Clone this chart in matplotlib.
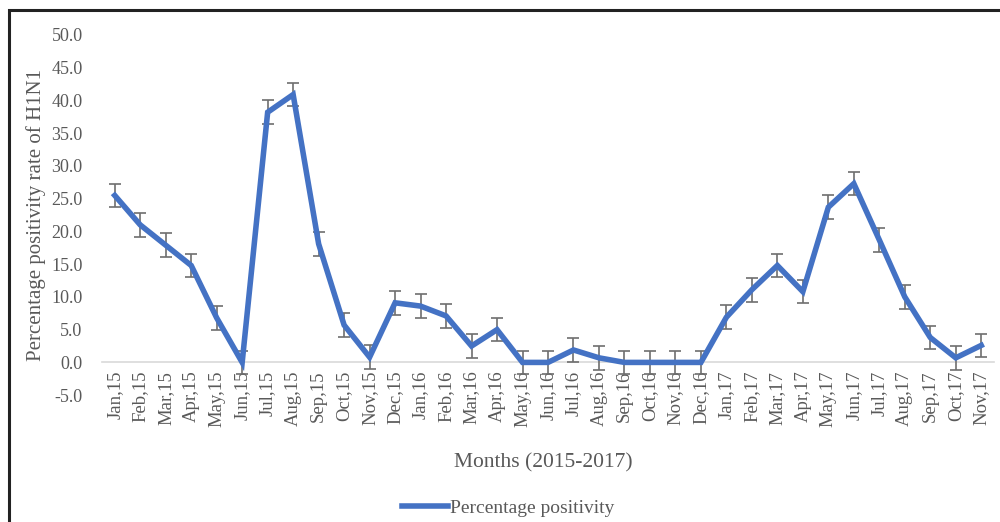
import numpy as np
import matplotlib.pyplot as plt
from matplotlib.patches import Rectangle
from matplotlib.lines import Line2D

months = ["Jan,15", "Feb,15", "Mar,15", "Apr,15", "May,15", "Jun,15", "Jul,15", "Aug,15",
          "Sep,15", "Oct,15", "Nov,15", "Dec,15", "Jan,16", "Feb,16", "Mar,16", "Apr,16",
          "May,16", "Jun,16", "Jul,16", "Aug,16", "Sep,16", "Oct,16", "Nov,16", "Dec,16",
          "Jan,17", "Feb,17", "Mar,17", "Apr,17", "May,17", "Jun,17", "Jul,17", "Aug,17",
          "Sep,17", "Oct,17", "Nov,17"]
positivity = [25.5, 21.0, 17.9, 14.8, 6.8, 0.0, 38.2, 40.9,
              18.1, 5.7, 0.8, 9.1, 8.6, 7.1, 2.5, 5.0,
              0.0, 0.0, 1.9, 0.7, 0.0, 0.0, 0.0, 0.0,
              6.9, 11.1, 14.8, 10.8, 23.7, 27.3, 18.7, 10.0,
              3.8, 0.7, 2.6]
errors = [1.8] * len(months)

plt.rcParams['font.family'] = ['Liberation Serif', 'DejaVu Serif']
text_col = '#595959'
line_col = '#4472C4'

fig = plt.figure(figsize=(10, 5.22), dpi=100)
ax = fig.add_axes([0.102, 0.243, 0.892, 0.69])

x = np.arange(len(months))
ax.errorbar(x, positivity, yerr=errors, color=line_col, lw=4, ecolor='#6e6e6e',
            elinewidth=1.2, capsize=4, capthick=1.2, solid_joinstyle='miter', zorder=3)

ax.set_xlim(-0.5, len(months) - 0.5)
ax.set_ylim(-5, 50)

for s in ['top', 'right', 'left']:
    ax.spines[s].set_visible(False)
# x axis crosses at zero, labels hang just below it
ax.spines['bottom'].set_position(('data', 0))
ax.spines['bottom'].set_color('#d9d9d9')
ax.spines['bottom'].set_linewidth(1.2)

ax.set_yticks(np.arange(-5, 51, 5))
ax.set_yticklabels([f"{v:.1f}" for v in np.arange(-5, 51, 5)])
ax.set_xticks(x)
ax.set_xticklabels(months)
ax.tick_params(axis='both', length=0, colors=text_col, labelsize=13)
ax.tick_params(axis='x', labelrotation=90, labelsize=13.5, pad=6)
ax.tick_params(axis='y', pad=14)

ax.set_ylabel('Percentage positivity rate of H1N1', fontsize=15, color=text_col, labelpad=4)
fig.text(0.543, 0.105, 'Months (2015-2017)', fontsize=15.5, color=text_col, ha='center')

handle = Line2D([], [], color=line_col, lw=4)
fig.legend([handle], ['Percentage positivity'], loc='center', bbox_to_anchor=(0.508, 0.027),
           frameon=False, fontsize=14, labelcolor=text_col, handlelength=2.4,
           handletextpad=0.1, borderpad=0, borderaxespad=0)

# outer border box
fig.patches.append(Rectangle((0.009, -0.01), 1.0, 0.99, transform=fig.transFigure,
                             fill=False, edgecolor='#222222', lw=2.2))

fig.savefig('out.png', dpi=100, facecolor='white')
